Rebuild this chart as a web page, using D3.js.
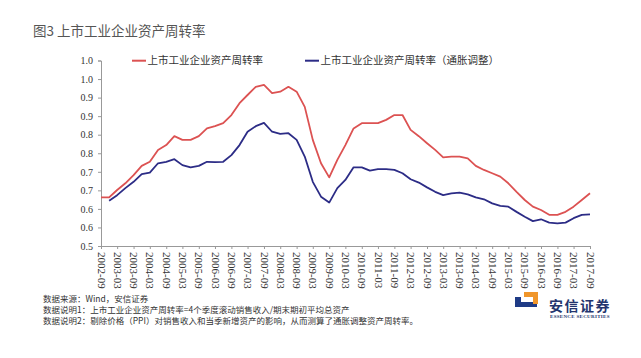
<!DOCTYPE html>
<html lang="zh">
<head>
<meta charset="utf-8">
<title>图3 上市工业企业资产周转率</title>
<script src="https://d3js.org/d3.v7.min.js"></script>
<style>
  body { margin: 0; background: #fff; }
  svg { display: block; }
</style>
</head>
<body>
<div id="chart"></div>
<script>
// quarterly values, 2002-09 .. 2017-09
var turnover = [0.681, 0.681, 0.701, 0.719, 0.741, 0.766, 0.777, 0.809, 0.822, 0.846,
  0.836, 0.836, 0.846, 0.867, 0.873, 0.881, 0.903, 0.935, 0.957, 0.979,
  0.984, 0.962, 0.966, 0.979, 0.966, 0.925, 0.836, 0.773, 0.735, 0.782,
  0.822, 0.867, 0.881, 0.881, 0.881, 0.890, 0.903, 0.903, 0.863, 0.846,
  0.827, 0.809, 0.789, 0.791, 0.791, 0.786, 0.766, 0.755, 0.746, 0.737,
  0.719, 0.696, 0.674, 0.656, 0.647, 0.634, 0.634, 0.642, 0.656, 0.674, 0.692];
var turnoverAdj = [null, 0.672, 0.687, 0.706, 0.723, 0.744, 0.748, 0.773, 0.777, 0.784,
  0.768, 0.762, 0.766, 0.777, 0.776, 0.777, 0.795, 0.822, 0.858, 0.873,
  0.882, 0.858, 0.852, 0.854, 0.836, 0.791, 0.723, 0.683, 0.667, 0.706,
  0.728, 0.762, 0.762, 0.753, 0.757, 0.757, 0.755, 0.746, 0.730, 0.721,
  0.708, 0.696, 0.687, 0.692, 0.694, 0.689, 0.681, 0.676, 0.665, 0.658,
  0.656, 0.642, 0.629, 0.617, 0.622, 0.613, 0.611, 0.613, 0.625, 0.634, 0.635];
var xLabels = ["2002-09","2003-03","2003-09","2004-03","2004-09","2005-03","2005-09",
  "2006-03","2006-09","2007-03","2007-09","2008-03","2008-09","2009-03","2009-09",
  "2010-03","2010-09","2011-03","2011-09","2012-03","2012-09","2013-03","2013-09",
  "2014-03","2014-09","2015-03","2015-09","2016-03","2016-09","2017-03","2017-09"];
var yTicks = [0.55, 0.60, 0.65, 0.70, 0.75, 0.80, 0.85, 0.90, 0.95, 1.00, 1.05];
var yLabels = ["0.5", "0.6", "0.6", "0.7", "0.7", "0.8", "0.8", "0.9", "0.9", "1.0", "1.0"];
var seriesNames = ["上市工业企业资产周转率", "上市工业企业资产周转率（通胀调整）"];
var notes = ["数据来源：Wind，安信证券",
  "数据说明1：上市工业企业资产周转率=4个季度滚动销售收入/期末期初平均总资产",
  "数据说明2：剔除价格（PPI）对销售收入和当季新增资产的影响，从而测算了通胀调整资产周转率。"];

var W = 641, H = 358;
var red = "#dc5252", blue = "#2c2c86";
var parse = d3.timeParse("%Y-%m");
var start = parse("2002-09");

var svg = d3.select("#chart").append("svg").attr("width", W).attr("height", H);
svg.append("rect").attr("width", W).attr("height", H).attr("fill", "#fff");

var x = d3.scaleTime().domain([start, parse("2017-09")]).range([101, 590]);
var y = d3.scaleLinear().domain([0.55, 1.05]).range([246, 60.5]);

// title
svg.append("text").attr("x", 33).attr("y", 35.5)
  .style("font-family", "'Noto Sans CJK SC', sans-serif").style("font-size", "13.5px")
  .attr("fill", "#555").text("图3 上市工业企业资产周转率");

// y axis
var yAxis = svg.append("g").attr("transform", "translate(101,0)")
  .call(d3.axisLeft(y).tickValues(yTicks).tickSize(3).tickPadding(5)
    .tickFormat(function (d, i) { return yLabels[i]; }));
yAxis.select(".domain").attr("stroke", "#999");
yAxis.selectAll(".tick line").attr("stroke", "#999");
yAxis.selectAll("text").attr("fill", "#333")
  .style("font-family", "'Liberation Serif', serif").style("font-size", "10px");

// x axis
var xAxis = svg.append("g").attr("transform", "translate(0,246)")
  .call(d3.axisBottom(x).tickValues(xLabels.map(function (s) { return parse(s); }))
    .tickSize(3).tickFormat(d3.timeFormat("%Y-%m")));
xAxis.select(".domain").attr("stroke", "#999");
xAxis.selectAll(".tick line").attr("stroke", "#999");
xAxis.selectAll("text").attr("fill", "#333")
  .style("font-family", "'Liberation Serif', serif").style("font-size", "11px")
  .attr("transform", "rotate(90)").attr("x", 6).attr("y", 0).attr("dy", "0.35em")
  .style("text-anchor", "start");

// lines
function qDate(i) { return d3.timeMonth.offset(start, 3 * i); }
var line = d3.line()
  .defined(function (d) { return d != null; })
  .x(function (d, i) { return x(qDate(i)); })
  .y(function (d) { return y(d); });

svg.append("path").datum(turnover).attr("d", line)
  .attr("fill", "none").attr("stroke", red).attr("stroke-width", 1.8)
  .attr("stroke-linejoin", "round");
svg.append("path").datum(turnoverAdj).attr("d", line)
  .attr("fill", "none").attr("stroke", blue).attr("stroke-width", 1.8)
  .attr("stroke-linejoin", "round");

// legend
var legendPos = [132, 305];
[red, blue].forEach(function (c, i) {
  var g = svg.append("g").attr("transform", "translate(" + legendPos[i] + ",60.7)");
  g.append("line").attr("x1", 0).attr("x2", 14).attr("stroke", c).attr("stroke-width", 2);
  g.append("text").attr("x", 15.5).attr("dy", "0.36em")
    .style("font-family", "'Noto Sans CJK SC', sans-serif").style("font-size", "10.5px")
    .attr("fill", "#333").text(seriesNames[i]);
});

// notes
notes.forEach(function (t, i) {
  svg.append("text").attr("x", 43).attr("y", 302 + i * 10.8)
    .style("font-family", "'Noto Sans CJK SC', sans-serif").style("font-size", "8.5px")
    .attr("fill", "#333").text(t);
});

// logo
var logo = svg.append("g").attr("transform", "translate(515,292)");
logo.append("path").attr("d", "M0,5 H6 V10 H22 V15 H0 Z").attr("fill", "#1f3b86");
logo.append("path").attr("d", "M9,0 H23 V12 H18 V5 H9 Z").attr("fill", "#f0962b");
svg.append("text").attr("x", 549).attr("y", 311)
  .style("font-family", "'Noto Sans CJK SC', sans-serif").style("font-size", "14px")
  .style("font-weight", "bold").style("letter-spacing", "1.5px")
  .attr("fill", "#23356e").text("安信证券");
svg.append("text").attr("x", 550).attr("y", 317.5)
  .style("font-family", "'Liberation Serif', serif").style("font-size", "5px")
  .style("font-weight", "bold").style("letter-spacing", "0.3px")
  .attr("fill", "#23356e").text("ESSENCE SECURITIES");
</script>
</body>
</html>
